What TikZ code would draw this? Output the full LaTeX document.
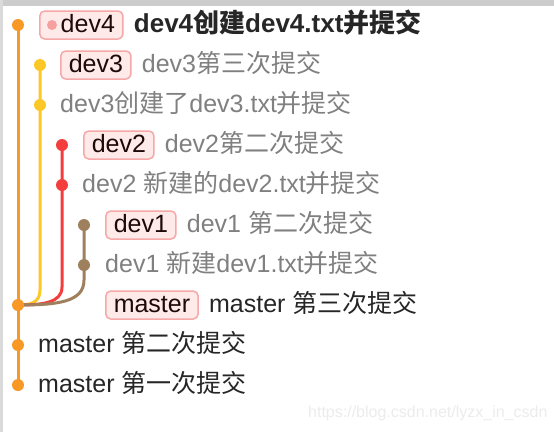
\documentclass[tikz,border=0pt]{standalone}
\usepackage{fontspec}
\setmainfont{Liberation Sans}
\newfontfamily\cjk{Noto Sans CJK SC}
\newcommand\zh[1]{{\cjk #1}}
\definecolor{gorange}{RGB}{248,152,38}
\definecolor{gyellow}{RGB}{252,200,40}
\definecolor{gred}{RGB}{244,62,62}
\definecolor{gbrown}{RGB}{158,128,94}
\definecolor{bfill}{RGB}{255,234,234}
\definecolor{bborder}{RGB}{246,168,168}
\definecolor{bdot}{RGB}{246,160,160}
\definecolor{greytxt}{RGB}{128,128,128}
\definecolor{darktxt}{RGB}{38,38,38}
\definecolor{badgetxt}{RGB}{30,8,8}
\definecolor{topband}{RGB}{204,204,204}
\definecolor{leftband}{RGB}{218,218,218}
\definecolor{wmark}{RGB}{236,236,236}
\pgfdeclarelayer{bg}
\pgfsetlayers{bg,main}
\begin{document}
\begin{tikzpicture}[x=1pt,y=-1pt,
  every node/.style={font=\fontsize{25}{29}\selectfont},
  dot/.style={circle,inner sep=0pt,minimum size=12pt,draw=none},
  badge/.style={draw=bborder,fill=bfill,line width=1.5pt,rounded corners=5pt,
    text=badgetxt,text height=17.5pt,text depth=2.5pt,inner xsep=8pt,inner ysep=4pt,
    minimum height=28pt,anchor=west},
  lbl/.style={text height=17.5pt,text depth=2.5pt,inner sep=0pt,anchor=west},
  greylbl/.style={lbl,text=greytxt},
  darklbl/.style={lbl,text=darktxt},
  branch/.style={line width=3pt}]
\useasboundingbox (0,0) rectangle (554,432);

% commit dots
\node[dot,fill=gorange] (c4) at (18,25) {};
\node[dot,fill=gyellow] (c3b) at (40,65) {};
\node[dot,fill=gyellow] (c3a) at (40,105) {};
\node[dot,fill=gred] (c2b) at (62,145) {};
\node[dot,fill=gred] (c2a) at (62,185) {};
\node[dot,fill=gbrown] (c1b) at (84,225) {};
\node[dot,fill=gbrown] (c1a) at (84,265) {};
\node[dot,fill=gorange] (m3) at (18,305) {};
\node[dot,fill=gorange] (m2) at (18,345) {};
\node[dot,fill=gorange] (m1) at (18,385) {};

% background and branch lines
\begin{pgfonlayer}{bg}
\fill[white] (0,0) rectangle (554,432);
\fill[topband] (0,0) rectangle (554,6);
\fill[leftband] (0,0) rectangle (2.5,432);
\draw[branch,gorange] (c4.center) -- (m1.center);
\draw[branch,gyellow] (c3b.center) -- (40,290) .. controls (40,303) and (30,305) .. (m3.center);
\draw[branch,gred] (c2b.center) -- (62,287) .. controls (62,303) and (42,305) .. (m3.center);
\draw[branch,gbrown] (c1b.center) -- (84,280) .. controls (84,302) and (58,305) .. (m3.center);
\end{pgfonlayer}

% row 0
\node[badge] (b4) at (39,25) {\hspace{13pt}dev4};
\node[dot,fill=bdot,minimum size=10pt] (b4dot) at (52,25) {};
\node[darklbl,font=\fontsize{26}{30}\selectfont\bfseries] (t4) at ([xshift=10pt]b4.east) {dev4\zh{创建}dev4.txt\zh{并提交}};
% row 1
\node[badge] (b3) at (60,65) {dev3};
\node[greylbl] (t3b) at ([xshift=10pt]b3.east) {dev3\zh{第三次提交}};
% row 2
\node[greylbl] (t3a) at (60,105) {dev3\zh{创建了}dev3.txt\zh{并提交}};
% row 3
\node[badge] (b2) at (83,145) {dev2};
\node[greylbl] (t2b) at ([xshift=10pt]b2.east) {dev2\zh{第二次提交}};
% row 4
\node[greylbl] (t2a) at (82,185) {dev2 \zh{新建的}dev2.txt\zh{并提交}};
% row 5
\node[badge] (b1) at (105,225) {dev1};
\node[greylbl] (t1b) at ([xshift=10pt]b1.east) {dev1 \zh{第二次提交}};
% row 6
\node[greylbl] (t1a) at (105,265) {dev1 \zh{新建}dev1.txt\zh{并提交}};
% row 7
\node[badge] (bm) at (105,305) {master};
\node[darklbl] (tm3) at ([xshift=10pt]bm.east) {master \zh{第三次提交}};
% rows 8-9
\node[darklbl] (tm2) at (38,345) {master \zh{第二次提交}};
\node[darklbl] (tm1) at (38,385) {master \zh{第一次提交}};

% watermark
\node[anchor=west,inner sep=0pt,text=wmark,font=\fontsize{16}{18}\selectfont] (wm) at (308,413) {https://blog.csdn.net/lyzx\_in\_csdn};
\end{tikzpicture}
\end{document}
